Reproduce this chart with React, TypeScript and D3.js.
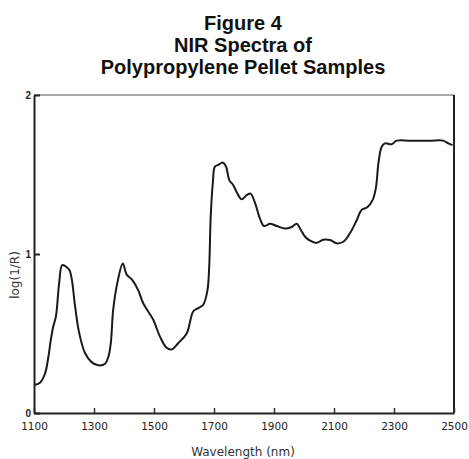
import React, { useRef, useEffect } from 'react';
import * as d3 from 'd3';

// NIR spectrum
const wavelengths = [
  1100, 1120, 1137, 1148, 1156, 1164, 1173, 1184, 1194, 1207, 1218, 1226, 1237, 1251, 1270, 1292, 1314, 1337,
  1348, 1356, 1364, 1378, 1396, 1409, 1426, 1448, 1464, 1487, 1498, 1520, 1542, 1559, 1581, 1609, 1631, 1648,
  1664, 1678, 1684, 1689, 1696, 1703, 1714, 1729, 1740, 1751, 1764, 1778, 1792, 1809, 1822, 1837, 1853, 1867,
  1887, 1909, 1937, 1959, 1976, 1987, 2003, 2020, 2042, 2064, 2087, 2109, 2131, 2153, 2176, 2192, 2211, 2229,
  2240, 2248, 2259, 2270, 2292, 2309, 2353, 2420, 2464, 2481, 2495,
];
const logR = [
  0.176, 0.19, 0.25, 0.354, 0.46, 0.543, 0.606, 0.82, 0.93, 0.92, 0.9, 0.84, 0.67, 0.5, 0.377, 0.32, 0.3, 0.31,
  0.354, 0.44, 0.65, 0.82, 0.94, 0.87, 0.84, 0.77, 0.69, 0.62, 0.585, 0.48, 0.41, 0.4, 0.44, 0.5, 0.64, 0.66,
  0.68, 0.77, 0.92, 1.235, 1.445, 1.55, 1.56, 1.575, 1.55, 1.465, 1.434, 1.38, 1.344, 1.37, 1.38, 1.32, 1.224, 1.176,
  1.19, 1.176, 1.16, 1.17, 1.19, 1.16, 1.11, 1.084, 1.07, 1.09, 1.088, 1.067, 1.077, 1.13, 1.214, 1.277, 1.294, 1.34,
  1.42, 1.57, 1.675, 1.696, 1.69, 1.713, 1.713, 1.713, 1.713, 1.696, 1.685,
];
const xTicks = [1100, 1300, 1500, 1700, 1900, 2100, 2300, 2500];
const yTicks = [0, 1, 2];
const titleLines = ['Figure 4', 'NIR Spectra of', 'Polypropylene Pellet Samples'];

const width = 469;
const height = 459;
const margin = { top: 95, right: 15, bottom: 46, left: 34 };

const App = () => {
  const svgRef = useRef<SVGSVGElement>(null);

  useEffect(() => {
    const svg = d3.select(svgRef.current);
    svg.selectAll('*').remove();

    const x = d3.scaleLinear().domain([1100, 2500]).range([margin.left, width - margin.right]);
    const y = d3.scaleLinear().domain([0, 2]).range([height - margin.bottom, margin.top]);

    // title
    svg.append('g')
      .selectAll('text')
      .data(titleLines)
      .enter()
      .append('text')
      .attr('x', 243)
      .attr('y', (d, i) => 30 + i * 22)
      .attr('text-anchor', 'middle')
      .style('font-family', 'Liberation Sans, Arial, sans-serif')
      .style('font-weight', 'bold')
      .style('font-size', '20px')
      .style('fill', '#111')
      .text(d => d);

    // frame: top thin, right thick
    svg.append('line')
      .attr('x1', x(1100)).attr('x2', x(2500))
      .attr('y1', y(2)).attr('y2', y(2))
      .attr('stroke', '#555').attr('stroke-width', 1);
    svg.append('line')
      .attr('x1', x(2500)).attr('x2', x(2500))
      .attr('y1', y(2)).attr('y2', y(0))
      .attr('stroke', '#222').attr('stroke-width', 2);

    // x axis, ticks pointing inward
    const xAxis = svg.append('g')
      .attr('transform', `translate(0,${y(0)})`)
      .call(d3.axisBottom(x).tickValues(xTicks).tickSizeInner(-5).tickSizeOuter(0).tickPadding(10).tickFormat(d3.format('d')));
    xAxis.select('.domain').attr('stroke', '#222').attr('stroke-width', 2);
    xAxis.selectAll('.tick line').attr('stroke', '#333').attr('stroke-width', 1.5);
    xAxis.selectAll('.tick text')
      .style('font-family', 'DejaVu Sans, sans-serif')
      .style('font-size', '10.5px')
      .style('fill', '#222');

    // y axis
    const yAxis = svg.append('g')
      .attr('transform', `translate(${x(1100)},0)`)
      .call(d3.axisLeft(y).tickValues(yTicks).tickSizeInner(-6).tickSizeOuter(0).tickPadding(10).tickFormat(d3.format('d')));
    yAxis.select('.domain').attr('stroke', '#222').attr('stroke-width', 2);
    yAxis.selectAll('.tick line').attr('stroke', '#222').attr('stroke-width', 2);
    yAxis.selectAll('.tick text')
      .attr('x', -3)
      .style('font-family', 'Liberation Sans, Arial, sans-serif')
      .style('font-weight', 'bold')
      .style('font-size', '10px')
      .style('fill', '#222');

    // axis labels
    svg.append('text')
      .attr('x', 243)
      .attr('y', 456)
      .attr('text-anchor', 'middle')
      .style('font-family', 'DejaVu Sans, sans-serif')
      .style('font-size', '12px')
      .style('fill', '#333')
      .text('Wavelength (nm)');
    svg.append('text')
      .attr('transform', 'translate(19,275) rotate(-90)')
      .attr('text-anchor', 'middle')
      .style('font-family', 'DejaVu Sans, sans-serif')
      .style('font-size', '12px')
      .style('fill', '#333')
      .text('log(1/R)');

    // spectrum
    const line = d3.line<number>()
      .x((d, i) => x(wavelengths[i]))
      .y(d => y(d))
      .curve(d3.curveCatmullRom.alpha(0.5));
    svg.append('path')
      .datum(logR)
      .attr('d', line)
      .attr('fill', 'none')
      .attr('stroke', '#1a1a1a')
      .attr('stroke-width', 2)
      .attr('stroke-linejoin', 'round');
  }, []);

  return (
    <svg ref={svgRef} width={width} height={height} style={{ position: 'absolute', left: 0, top: 0 }}></svg>
  );
};

export default App;
